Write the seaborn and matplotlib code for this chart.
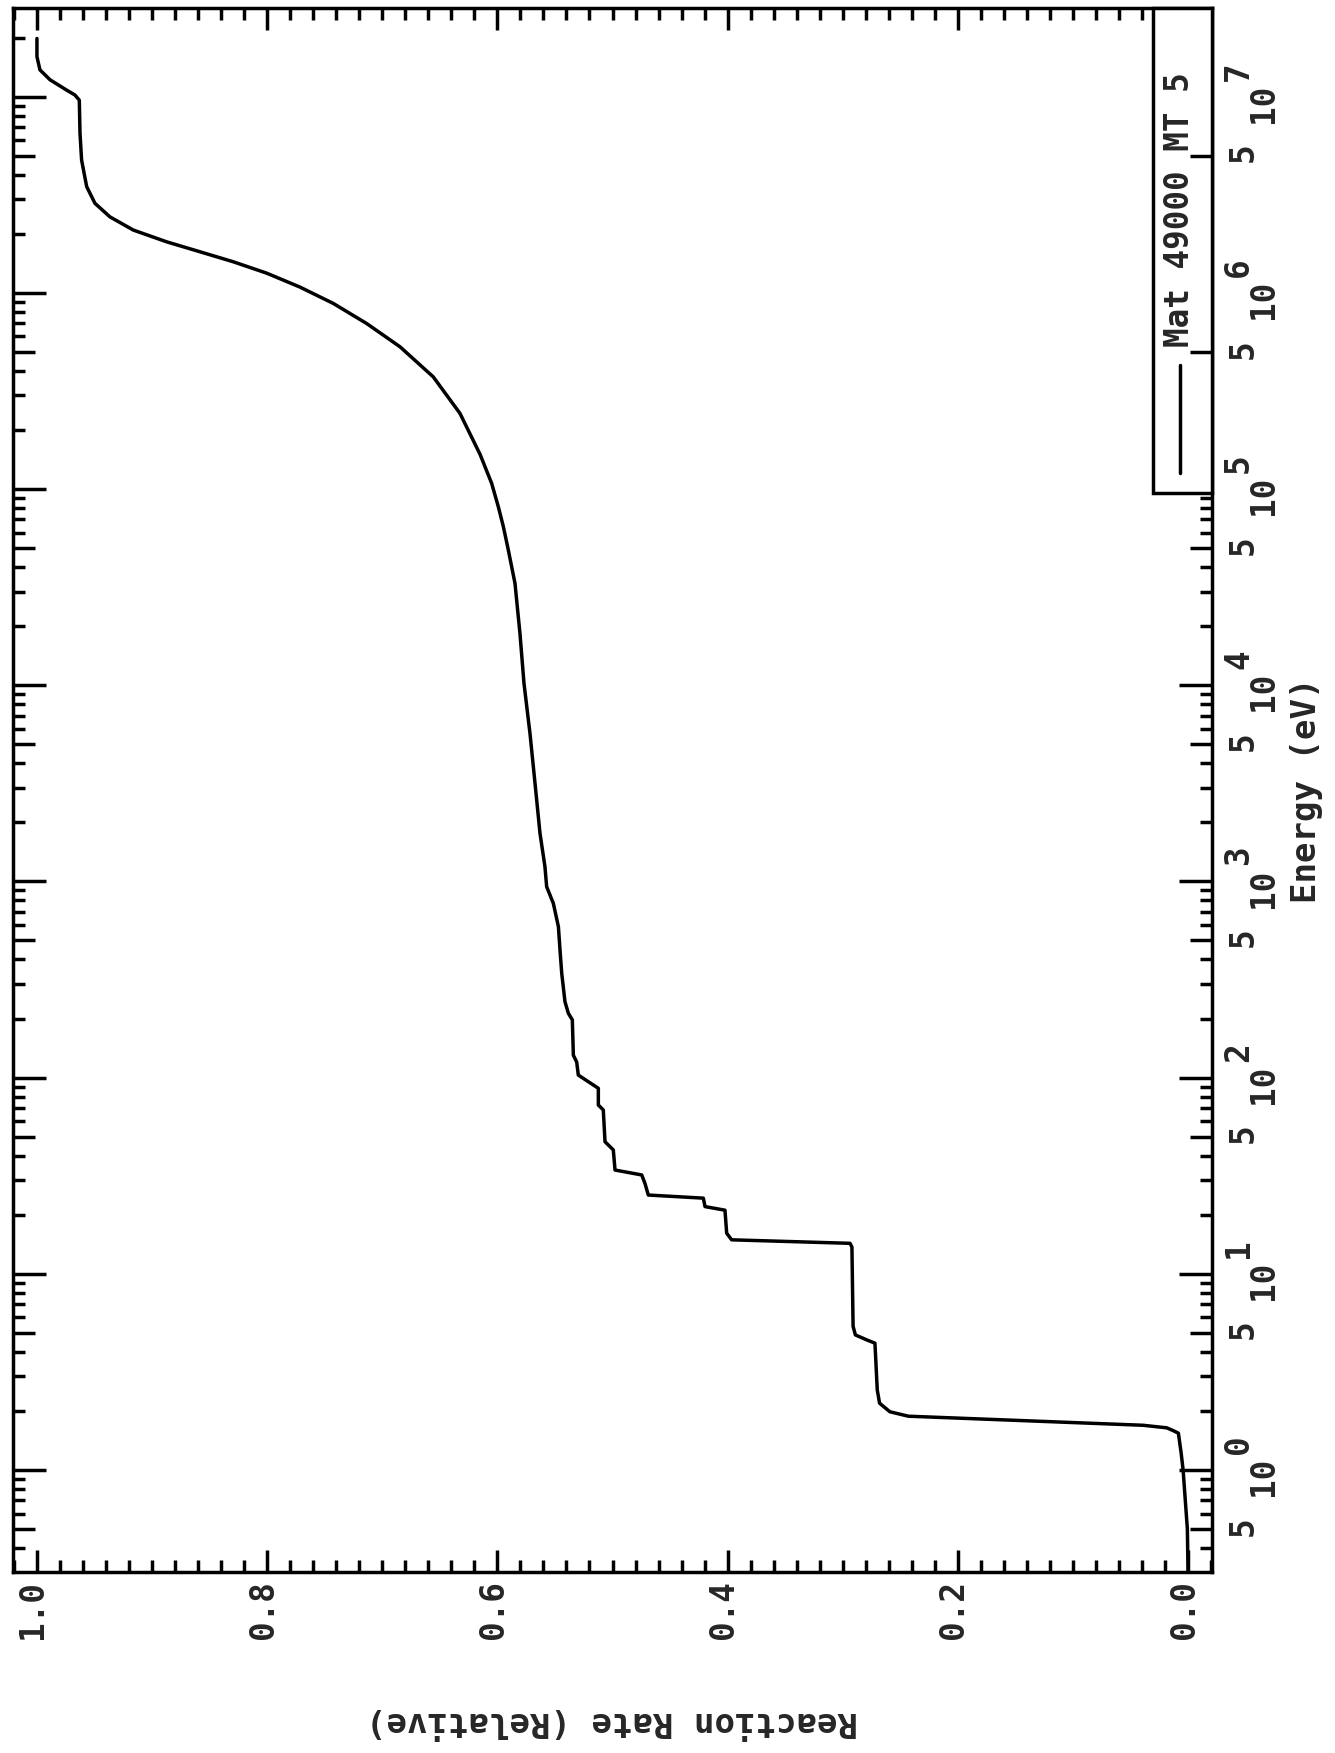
import matplotlib
matplotlib.use("Agg")
import matplotlib.pyplot as plt
import matplotlib.transforms as mtransforms
from matplotlib.ticker import FixedLocator, MultipleLocator, LogLocator, NullFormatter, NullLocator
from matplotlib.patches import Rectangle
import pandas as pd
import seaborn as sns

# --- data (energy in eV, cumulative reaction rate) ---
energy_ev = [
    0.30, 0.50, 1.00, 1.22, 1.54, 1.585, 1.64, 1.69, 1.88, 1.98, 2.19, 2.56,
    4.43, 4.60, 4.88, 5.40, 13.7, 14.3, 14.9, 16.1, 21.1, 22.0, 24.3, 25.2,
    28.9, 31.9, 33.8, 42.8, 47.1, 68.4, 72.5, 88.2, 95.3, 103, 120, 130,
    197, 213, 244, 340, 447, 588, 773, 940, 1190, 1760, 3160, 5690,
    1.023e4, 1.837e4, 3.304e4, 4.887e4, 6.427e4, 8.128e4, 1.07e5, 1.50e5,
    2.43e5, 3.73e5, 5.31e5, 6.98e5, 8.83e5, 1.07e6, 1.26e6, 1.44e6,
    1.62e6, 1.82e6, 2.09e6, 2.44e6, 2.86e6, 3.48e6, 4.75e6, 6.50e6,
    9.60e6, 1.02e7, 1.08e7, 1.22e7, 1.37e7, 1.60e7, 1.98e7,
]
reaction_rate = [
    0.000, 0.0006, 0.0043, 0.0060, 0.0084, 0.0127, 0.0185, 0.039, 0.243, 0.259, 0.268, 0.270,
    0.272, 0.279, 0.289, 0.291, 0.292, 0.2937, 0.3965, 0.4008, 0.4023, 0.4196, 0.4211, 0.4689,
    0.4718, 0.4746, 0.4978, 0.4993, 0.5065, 0.5080, 0.5123, 0.5123, 0.5210, 0.5297, 0.5311, 0.5340,
    0.5349, 0.5384, 0.5413, 0.5441, 0.5456, 0.5470, 0.5514, 0.5572, 0.5587, 0.5630, 0.5673, 0.5717,
    0.5769, 0.5804, 0.5847, 0.5905, 0.5948, 0.5992, 0.6050, 0.6150,
    0.6325, 0.6557, 0.6846, 0.7136, 0.7425, 0.7715, 0.8004, 0.8294,
    0.8584, 0.8873, 0.9163, 0.9366, 0.9496, 0.9568, 0.9612, 0.9626,
    0.9632, 0.9670, 0.9742, 0.9887, 0.9974, 1.0000, 1.0000,
]

rate_ticks = [0.0, 0.2, 0.4, 0.6, 0.8, 1.0]
rate_tick_labels = ["0.0", "0.2", "0.4", "0.6", "0.8", "1.0"]
decade_exponents = [0, 1, 2, 3, 4, 5, 6, 7]
five_ticks = [0.5, 5, 50, 500, 5e3, 5e4, 5e5, 5e6]
legend_label = "Mat 49000 MT 5"
x_label = "Reaction Rate (Relative)"
y_label = "Energy (eV)"

df = pd.DataFrame({"energy": energy_ev, "rate": reaction_rate})

# --- estilo ---
sns.set_style("ticks")
plt.rcParams["font.family"] = ["DejaVu Sans Mono", "Liberation Mono"]
plt.rcParams["font.weight"] = "bold"
plt.rcParams["axes.labelweight"] = "bold"

LW = 2.5
FS = 23.5

fig = plt.figure(figsize=(13.35, 17.53), dpi=100)
ax = fig.add_axes([13 / 1335, 181 / 1753, 1199 / 1335, 1564 / 1753])
ax5 = ax.twinx()  # carries the medium "5" ticks

sns.lineplot(data=df, x="rate", y="energy", sort=False, estimator=None,
             color="black", linewidth=LW, ax=ax, legend=False)
ax.set_yscale("log")
ax.set_xlim(1.0208, -0.0208)
ax.set_ylim(10 ** -0.52, 10 ** 7.452)

for s in ax.spines.values():
    s.set_linewidth(LW)
    s.set_color("black")
    s.set_visible(True)
for s in ax5.spines.values():
    s.set_visible(False)

# --- rate axis (horizontal) ---
ax.xaxis.set_major_locator(FixedLocator(rate_ticks))
ax.xaxis.set_minor_locator(MultipleLocator(0.02))
ax.set_xticks(rate_ticks)
ax.set_xticklabels(rate_tick_labels, rotation=90, fontsize=FS, fontweight="bold")
ax.tick_params(axis="x", which="both", direction="in", top=True, bottom=True,
               width=LW, color="black")
ax.tick_params(axis="x", which="major", length=15.8, pad=6)
ax.tick_params(axis="x", which="minor", length=8.6)
shift_left = mtransforms.ScaledTranslation(-4 / 100, 0, fig.dpi_scale_trans)
for lab in ax.get_xticklabels():
    lab.set_transform(lab.get_transform() + shift_left)

# --- energy axis (vertical, log) ---
ax.yaxis.set_major_locator(FixedLocator([10.0 ** e for e in decade_exponents]))
ax.yaxis.set_minor_locator(LogLocator(base=10, subs=[2, 3, 4, 6, 7, 8, 9], numticks=60))
ax.yaxis.set_minor_formatter(NullFormatter())
ax.set_yticks([10.0 ** e for e in decade_exponents])
ax.set_yticklabels(["10"] * len(decade_exponents), rotation=90, fontsize=FS, fontweight="bold")
ax.tick_params(axis="y", which="both", direction="in", left=True, right=True,
               labelleft=False, labelright=True, width=LW, color="black")
ax.tick_params(axis="y", which="major", length=23.8, pad=25)
ax.tick_params(axis="y", which="minor", length=8.6)

ax5.set_yscale("log")
ax5.set_ylim(ax.get_ylim())
ax5.yaxis.set_major_locator(FixedLocator(five_ticks))
ax5.yaxis.set_minor_locator(NullLocator())
ax5.set_yticks(five_ticks)
ax5.set_yticklabels(["5"] * len(five_ticks), rotation=90, fontsize=FS, fontweight="bold")
ax5.tick_params(axis="y", which="major", direction="in", left=True, right=True,
                labelleft=False, labelright=True, length=15.8, width=LW,
                color="black", pad=10.8)

# exponents of the decade labels
exp_trans = mtransforms.offset_copy(
    mtransforms.blended_transform_factory(ax.transAxes, ax.transData),
    fig=fig, x=0, y=16, units="dots")
for e in decade_exponents:
    ax.text(1.0221, 10.0 ** e, str(e), transform=exp_trans, rotation=90,
            ha="center", va="bottom", fontsize=FS, fontweight="bold", clip_on=False)

# --- axis titles ---
ax.set_ylabel(y_label, fontsize=24.5, fontweight="bold", rotation=90)
ax.yaxis.set_label_position("right")
ax.yaxis.set_label_coords((1290 - 13) / 1199, 0.5)
ax.set_xlabel(x_label, fontsize=24.5, fontweight="bold", rotation=180)
ax.xaxis.set_label_coords(0.5, -0.085)

# --- legend box (drawn rotated, like the page) ---
ax.add_patch(Rectangle((0.9508, 0.6899), 0.0492, 0.3101, transform=ax.transAxes,
                       facecolor="white", edgecolor="black", lw=LW, zorder=5, clip_on=False))
ax.plot([0.9733, 0.9733], [0.7027, 0.7717], transform=ax.transAxes,
        color="black", lw=LW, zorder=6)
ax.text(0.9725, 0.7832, legend_label, transform=ax.transAxes, rotation=90,
        ha="center", va="bottom", fontsize=23.5, fontweight="bold", zorder=6)

fig.savefig("out.png", dpi=100)
